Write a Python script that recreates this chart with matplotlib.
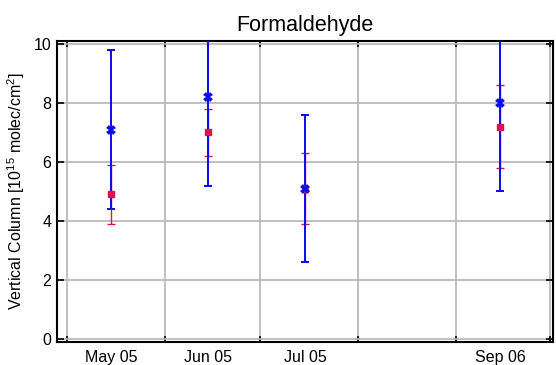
import numpy as np
import matplotlib
matplotlib.use("Agg")
import matplotlib.pyplot as plt

plt.rcParams["font.family"] = ["Liberation Sans", "DejaVu Sans"]
plt.rcParams["mathtext.fontset"] = "custom"
plt.rcParams["mathtext.rm"] = "Liberation Sans"

# data
months = ["May 05", "Jun 05", "Jul 05", "Sep 06"]
xpos = [0, 1, 2, 4]
blue_val = [7.1, 8.2, 5.1, 8.0]
blue_err = [2.7, 3.0, 2.5, 3.0]
red_val = [4.9, 7.0, 5.1, 7.2]
red_err = [1.0, 0.8, 1.2, 1.4]
grid_x = [-0.45, 0.56, 1.53, 2.54, 3.55, 4.51]

blue = "#0a0aee"
red = "#d8154a"

fig = plt.figure(figsize=(5.56, 3.65), dpi=100)
ax = fig.add_axes([0.1025, 0.063, 0.892, 0.8247])

ax.errorbar(xpos, red_val, yerr=red_err, fmt="none", ecolor=red,
            elinewidth=1.0, capsize=3, capthick=1.0, zorder=3)
ax.errorbar(xpos, blue_val, yerr=blue_err, fmt="none", ecolor=blue,
            elinewidth=1.4, capsize=3, capthick=1.4, zorder=4)
ax.plot(xpos, red_val, ls="none", marker="s", ms=5, color=red, zorder=5)
ax.plot(xpos, blue_val, ls="none", marker="X", ms=7, mew=0,
        color=blue, zorder=6)

ax.set_xlim(-0.555, 4.545)
ax.set_ylim(-0.1, 10.1)

# grid lines / tick marks between months, labels at the months
ax.set_xticks(grid_x)
ax.set_xticklabels([])
ax.set_xticks(xpos, minor=True)
ax.set_xticklabels(months, minor=True, fontsize=11.5)
ax.tick_params(axis="x", which="minor", length=0, pad=6, top=False)
ax.tick_params(axis="x", which="major", direction="in", length=4,
               width=1.2, top=True)
ax.set_yticks(np.arange(0, 11, 2))
ax.tick_params(axis="y", direction="in", length=5, width=1.2, right=True,
               labelsize=11.5, pad=4)

ax.grid(True, which="major", color="#b4b4b4", linewidth=1.2, zorder=0)
ax.set_axisbelow(True)
for s in ax.spines.values():
    s.set_linewidth(1.5)

ax.set_ylabel("Vertical Column [10$^{15}$ molec/cm$^2$]", fontsize=11.5,
              labelpad=5)
ax.set_title("Formaldehyde", fontsize=15.5, pad=7)

fig.savefig("out.png", dpi=100)
